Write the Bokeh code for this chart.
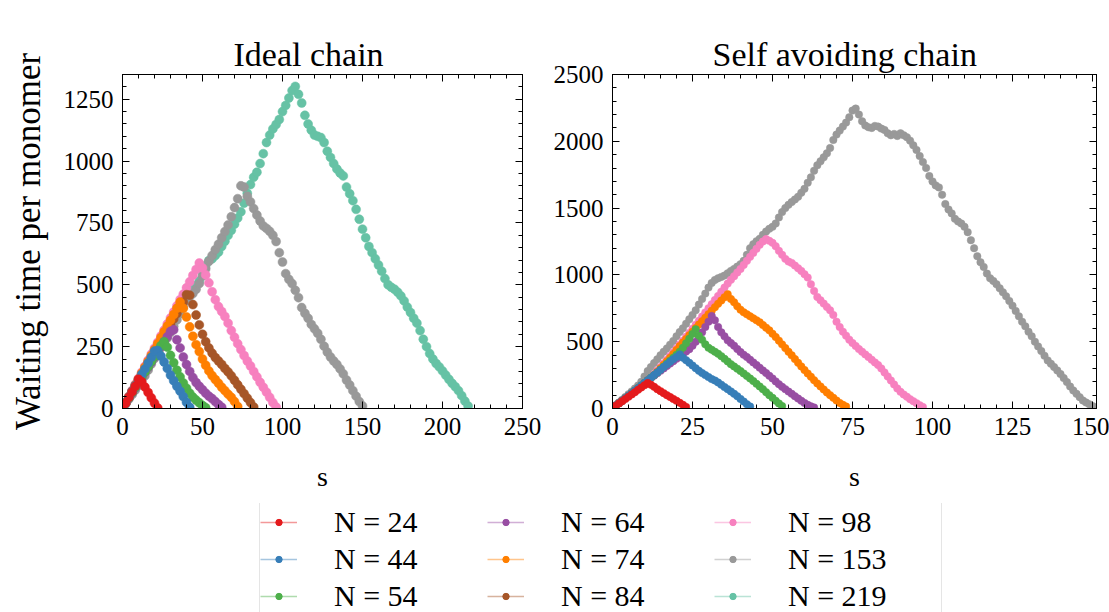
from bokeh.plotting import figure
from bokeh.models import Range1d, FixedTicker, LinearAxis, Legend, LegendItem, ColumnDataSource, Title
from bokeh.layouts import column, row
from bokeh.embed import file_html
from bokeh.resources import INLINE

FONT = "Liberation Serif"

# ---------------- data ----------------
labels = ["N = 24", "N = 44", "N = 54", "N = 64", "N = 74", "N = 84", "N = 98", "N = 153", "N = 219"]
colors = ["#e41a1c", "#377eb8", "#4daf4a", "#984ea3", "#ff7f00", "#a65628", "#f781bf", "#999999", "#66c2a5"]

# Ideal chain: waiting time per monomer, read every 2nd monomer (s = 0, 2, 4, ...)
ideal_step = 2
ideal_24 = [3, 22, 45, 67, 90, 118, 108, 87, 65, 43, 22, 2]
ideal_44 = [2, 24, 47, 70, 93, 116, 138, 160, 184, 207, 232,
            234, 212, 188, 162, 135, 112, 90, 70, 48, 25, 5]
ideal_54 = [2, 22, 43, 64, 85, 106, 127, 148, 168, 190, 210, 232, 254, 270,
            248, 215, 185, 155, 128, 103, 82, 62, 46, 34, 23, 12, 3]
ideal_64 = [2, 21, 42, 62, 83, 104, 125, 146, 166, 187, 208, 228, 249, 270, 290, 312,
            318, 278, 245, 208, 178, 150, 125, 105, 90, 76, 62, 50, 40, 28, 16, 5]
ideal_74 = [2, 24, 48, 71, 95, 119, 143, 167, 190, 214, 238, 262, 286, 310, 333, 357, 380, 405, 430,
            405, 370, 330, 292, 258, 230, 200, 175, 152, 133, 117, 102, 86, 72, 58, 45, 28, 8]
ideal_84 = [2, 23, 45, 68, 90, 113, 136, 158, 181, 204, 226, 249, 271, 294, 316, 339, 362, 384, 407, 430, 460,
            458, 420, 378, 338, 300, 270, 245, 224, 206, 192, 178, 162, 148, 132, 114, 96, 78, 60, 42, 24, 6]
ideal_98 = [2, 25, 49, 73, 98, 122, 147, 171, 195, 220, 244, 268, 293, 317, 342, 366, 390, 415, 440, 462,
            488, 512, 538, 562, 588,
            568, 540, 508, 472, 440, 412, 392, 372, 345, 315, 288, 262, 238, 214, 192, 172, 150, 128, 106,
            86, 66, 45, 24, 6]
ideal_153 = [2, 18, 38, 56, 75, 93, 112, 132, 155, 180, 202, 225, 245, 265, 285, 308, 332, 358, 383, 410,
             435, 452, 465, 482, 505, 535, 565, 595, 618, 642, 664, 690, 715, 742, 775, 812, 848, 900,
             895, 858, 835, 808, 782, 758, 738, 728, 716, 700, 675, 630, 592, 545, 522, 505, 478, 448, 408,
             385, 365, 340, 322, 304, 280, 252, 228, 208, 192, 178, 160, 140, 115, 95, 72, 50, 28, 10]
ideal_219 = [2, 22, 45, 68, 92, 116, 140, 163, 186, 210, 233, 256, 280, 303, 326, 350, 374, 398, 420, 443,
             465, 482, 490, 498, 515, 548, 578, 598, 605, 618, 632, 655, 676, 700, 720, 745, 770, 795, 830,
             870, 905, 935, 955, 990, 1030, 1075, 1105, 1130, 1148, 1168, 1200, 1225, 1255, 1285, 1302,
             1270, 1235, 1185, 1150, 1125, 1105, 1100, 1095, 1075, 1040, 1015, 990, 968, 952, 940, 895, 868,
             840, 805, 765, 725, 690, 655, 630, 605, 580, 555, 525, 500, 490, 482, 470, 455, 435, 410, 388,
             365, 345, 315, 280, 250, 222, 200, 182, 168, 152, 135, 118, 102, 88, 72, 52, 30, 10]
ideal_values = [ideal_24, ideal_44, ideal_54, ideal_64, ideal_74, ideal_84, ideal_98, ideal_153, ideal_219]
ideal_labels = labels

# Self avoiding chain: waiting time per monomer, every monomer (s = 0, 1, 2, ...)
saw_step = 1
saw_24 = [5, 20, 37, 54, 71, 88, 105, 122, 140, 157, 174, 190,
          178, 162, 145, 130, 115, 100, 86, 72, 58, 43, 28, 12]
saw_44 = [5, 22, 40, 58, 77, 96, 115, 134, 153, 172, 192, 211,
          230, 250, 270, 290, 310, 330, 350, 368, 386, 405,
          380, 362, 342, 322, 302, 282, 265, 250, 235, 220, 210, 195, 178, 160, 145, 128, 110, 92, 72, 52, 32, 15]
saw_54 = [5, 22, 40, 58, 77, 96, 115, 134, 153, 172, 192, 211,
          230, 250, 270, 292, 314, 336, 358, 380, 402, 425, 455, 488, 522, 558, 593,
          545, 515, 480, 455, 440, 425, 410, 392, 372, 352, 332, 315, 298, 280, 262, 244, 225, 205, 185, 165,
          145, 122, 100, 80, 58, 38, 18]
saw_64 = [5, 22, 40, 58, 77, 96, 115, 134, 153, 172, 192, 211,
          228, 246, 264, 282, 300, 318, 336, 354, 372, 390, 408, 426, 444, 470, 500, 535, 570, 610, 650, 693,
          660, 610, 570, 540, 510, 490, 470, 445, 422, 402, 385, 365, 345, 325, 305, 285, 265, 245, 225, 203,
          182, 162, 145, 127, 110, 92, 75, 58, 42, 28, 16, 8]
saw_74 = [5, 22, 40, 58, 77, 96, 115, 134, 153, 172, 192, 211,
          230, 250, 276, 302, 328, 354, 380, 408, 438, 467, 494, 521, 548, 575, 602, 628, 654, 680, 706, 732,
          758, 784, 808, 832, 856,
          820, 795, 765, 740, 720, 705, 690, 675, 660, 645, 625, 605, 585, 560, 535, 508, 480, 452, 425, 398,
          370, 342, 315, 288, 262, 238, 212, 188, 165, 142, 120, 100, 80, 60, 42, 28, 15]
saw_98 = [5, 22, 40, 58, 77, 96, 115, 134, 153, 172, 192, 211, 230,
          257, 284, 311, 338, 365, 393, 421, 450, 479, 508, 537, 566, 596, 626, 657, 688, 719, 750, 781, 812,
          843, 874, 905, 935, 963, 990, 1018, 1045, 1075, 1105, 1135, 1165, 1195, 1225, 1250, 1268,
          1255, 1240, 1215, 1180, 1150, 1120, 1100, 1090, 1070, 1050, 1030, 1005, 980, 930, 880, 835, 810, 785,
          760, 735, 700, 650, 610, 575, 545, 515, 490, 468, 445, 425, 405, 385, 365, 345, 325, 300, 270, 240,
          210, 180, 150, 125, 105, 88, 70, 55, 40, 25, 12]
saw_153 = [5, 25, 45, 65, 86, 107, 128, 150, 172, 200,
           240, 280, 310, 340, 368, 398, 425, 450, 478, 506,
           540, 572, 600, 635, 668, 700, 735, 778, 820, 860,
           905, 940, 962, 975, 985, 995, 1012, 1030, 1045, 1062,
           1080, 1105, 1150, 1200, 1230, 1252, 1270, 1300, 1325, 1345,
           1360, 1385, 1430, 1470, 1500, 1525, 1545, 1565, 1585, 1615,
           1645, 1690, 1730, 1780, 1820, 1850, 1880, 1910, 1950, 2010,
           2050, 2080, 2110, 2140, 2180, 2230, 2245, 2200, 2150, 2118,
           2105, 2100, 2115, 2110, 2095, 2085, 2060, 2045, 2055, 2040,
           2060, 2045, 2030, 2005, 1970, 1935, 1890, 1845, 1800, 1740,
           1700, 1670, 1655, 1600, 1530, 1490, 1460, 1420, 1400, 1385,
           1360, 1320, 1260, 1200, 1140, 1095, 1060, 1010, 975, 955,
           930, 900, 870, 840, 805, 770, 730, 690, 650, 615,
           575, 540, 500, 465, 430, 395, 360, 335, 310, 285,
           258, 228, 198, 165, 135, 110, 85, 60, 45, 32,
           18, 8, 2]
saw_values = [saw_24, saw_44, saw_54, saw_64, saw_74, saw_98, saw_153]
saw_labels = ["N = 24", "N = 44", "N = 54", "N = 64", "N = 74", "N = 98", "N = 153"]

ideal_xticks = [0, 50, 100, 150, 200, 250]
ideal_yticks = [0, 250, 500, 750, 1000, 1250]
saw_xticks = [0, 25, 50, 75, 100, 125, 150]
saw_yticks = [0, 500, 1000, 1500, 2000, 2500]

color_of = dict(zip(labels, colors))


def style_axis(ax, major, minor, show_labels, hidden_standoff=0):
    ax.ticker = FixedTicker(ticks=major, minor_ticks=minor)
    ax.major_tick_in = 7
    ax.major_tick_out = 0
    ax.minor_tick_in = 4
    ax.minor_tick_out = 0
    ax.axis_line_color = "black"
    ax.major_tick_line_color = "black"
    ax.minor_tick_line_color = "black"
    if show_labels:
        ax.major_label_text_font = FONT
        ax.major_label_text_font_size = "25px"
        ax.major_label_text_color = "black"
        ax.major_label_standoff = 9
    else:
        ax.major_label_text_font_size = "1px"
        ax.major_label_text_color = None
        ax.major_label_standoff = hidden_standoff


def make_plot(title, title_offset, title_gap, width, height, borders, xr, yr,
              xmaj, xmin, ymaj, ymin, values, labs, step, msize):
    p = figure(width=width, height=height, x_range=Range1d(*xr), y_range=Range1d(*yr),
               output_backend="svg", toolbar_location=None, title=None,
               min_border_left=borders[0], min_border_right=borders[1],
               min_border_top=borders[2], min_border_bottom=borders[3])
    p.grid.visible = False
    p.outline_line_color = "black"
    p.background_fill_color = "white"
    p.border_fill_color = "white"

    # top axis (inward ticks only) sits next to the frame and leaves a gap under the title
    top_ax = LinearAxis()
    right_ax = LinearAxis()
    p.add_layout(top_ax, "above")
    p.add_layout(right_ax, "right")
    t = Title(text=title, text_font=FONT, text_font_size="34px", text_font_style="normal",
              text_color="black", align="left", offset=title_offset,
              vertical_align="top", standoff=0)
    p.add_layout(t, "above")
    style_axis(p.below[0], xmaj, xmin, True)
    style_axis(top_ax, xmaj, xmin, False, title_gap)
    style_axis(p.left[0], ymaj, ymin, True)
    style_axis(right_ax, ymaj, ymin, False)
    bx = p.below[0]
    bx.axis_label = "s"
    bx.axis_label_text_font = FONT
    bx.axis_label_text_font_size = "28px"
    bx.axis_label_text_font_style = "normal"
    bx.axis_label_text_color = "black"
    bx.axis_label_standoff = 23

    # larger chains drawn first, smaller ones on top
    for vals, lab in reversed(list(zip(values, labs))):
        xs = [i * step for i in range(len(vals))]
        c = color_of[lab]
        p.scatter(xs, vals, marker="circle", size=msize, fill_color=c, line_color=c, line_width=0.5)
    return p


TOP_H = 503
pL = make_plot("Ideal chain", 111, 26, 545, TOP_H, (122, 23, 70, TOP_H - 412), (0, 250), (0, 1350),
               ideal_xticks, list(range(0, 251, 10)), ideal_yticks, list(range(0, 1351, 50)),
               ideal_values, ideal_labels, ideal_step, 9)
ly = pL.left[0]
ly.axis_label = "Waiting time per monomer"
ly.axis_label_text_font = FONT
ly.axis_label_text_font_size = "35px"
ly.axis_label_text_font_style = "normal"
ly.axis_label_text_color = "black"
ly.axis_label_standoff = 13

pR = make_plot("Self avoiding chain", 100, 23, 564, TOP_H, (67, 13, 74, TOP_H - 408), (0, 151.25), (0, 2500),
               saw_xticks, list(range(0, 152, 5)), saw_yticks, list(range(0, 2501, 100)),
               saw_values, saw_labels, saw_step, 7.5)

# ---------------- legend ----------------
LEG_H = 612 - TOP_H
leg = figure(width=1109, height=LEG_H, x_range=Range1d(-3, -2), y_range=Range1d(-3, -2),
             output_backend="svg", toolbar_location=None, min_border=0,
             x_axis_location=None, y_axis_location=None)
leg.outline_line_color = None
leg.grid.visible = False
leg_values = dict(zip(ideal_labels, ideal_values))
items = []
for lab, c in zip(labels, colors):
    vals = leg_values[lab]
    src = ColumnDataSource(data=dict(x=[i * ideal_step for i in range(len(vals))], y=vals))
    lr = leg.line("x", "y", source=src, line_color=c, line_alpha=0.45, line_width=1.5)
    sr = leg.scatter("x", "y", source=src, marker="circle", size=6, fill_color=c, line_color=c)
    items.append(LegendItem(label=lab, renderers=[lr, sr]))
legend = Legend(items=items, location=(259, LEG_H - 1 - 111), ncols=3, orientation="vertical")
legend.label_text_font = FONT
legend.label_text_font_size = "30px"
legend.label_text_color = "black"
legend.glyph_width = 37
legend.glyph_height = 16
legend.label_standoff = 37
legend.label_width = 153
legend.label_height = 37
legend.spacing = 0
legend.padding = 0
legend.margin = 0
legend.border_line_color = "#cccccc"
legend.border_line_width = 1
legend.background_fill_color = "white"
legend.background_fill_alpha = 1.0
leg.add_layout(legend)

layout = column(row(pL, pR), leg)
open("out.html", "w").write(file_html(layout, INLINE))
